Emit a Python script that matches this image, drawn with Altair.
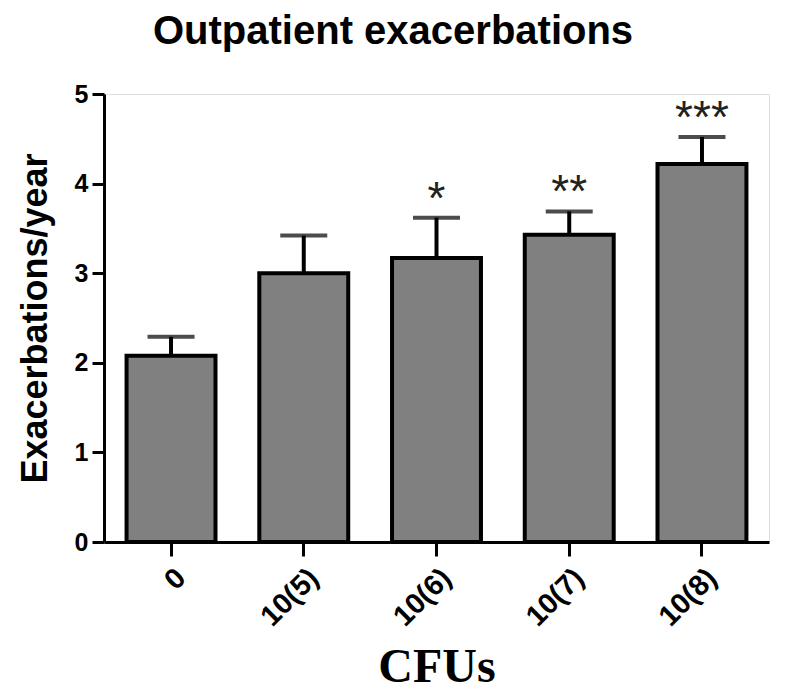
import altair as alt
import pandas as pd

categories = ["0", "10(5)", "10(6)", "10(7)", "10(8)"]
means = [2.08, 3.00, 3.17, 3.43, 4.22]
errors = [0.21, 0.42, 0.45, 0.26, 0.30]
stars = ["", "", "*", "**", "***"]

df = pd.DataFrame({
    "cat": categories,
    "mean": means,
    "top": [m + e for m, e in zip(means, errors)],
    "star": stars,
})

x = alt.X("cat:N", sort=categories, scale=alt.Scale(paddingInner=0.33, paddingOuter=0.17),
          axis=alt.Axis(title="CFUs", labelAngle=315, labelAlign="right", labelBaseline="middle",
                        labelFont="Liberation Sans", labelFontWeight="bold", labelFontSize=29,
                        labelColor="black", labelPadding=17, labelOffset=10,
                        titleFont="Liberation Serif", titleFontWeight="bold", titleFontSize=48,
                        titleColor="black", titlePadding=12,
                        domainColor="black", domainWidth=3, tickColor="black", tickWidth=3,
                        tickSize=14))
y = alt.Y("mean:Q", scale=alt.Scale(domain=[0, 5]),
          axis=alt.Axis(title="Exacerbations/year", values=[0, 1, 2, 3, 4, 5], format="d",
                        grid=False,
                        labelFont="Liberation Sans", labelFontWeight="bold", labelFontSize=25,
                        labelColor="black", labelPadding=4,
                        titleFont="Liberation Sans", titleFontWeight="bold", titleFontSize=36,
                        titleColor="black", titlePadding=20,
                        domainColor="black", domainWidth=3, tickColor="black", tickWidth=3,
                        tickSize=12))

base = alt.Chart(df)

err = base.mark_rule(color="black", strokeWidth=4).encode(x=x, y="mean:Q", y2="top:Q")
cap = base.mark_tick(color="black", thickness=4, size=47, orient="horizontal").encode(x=x, y="top:Q")
bars = base.mark_bar(color="#808080", stroke="black", strokeWidth=4).encode(x=x, y=y)
text = base.mark_text(font="Liberation Sans", fontSize=46, dy=-4,
                      baseline="alphabetic", color="#222").encode(x=x, y="top:Q", text="star:N")

chart = alt.layer(err, cap, bars, text).properties(
    width=665, height=448,
    padding={"left": 9, "top": 4, "right": 5, "bottom": 0},
    title=alt.Title("Outpatient exacerbations", font="Liberation Sans", fontSize=40,
                    fontWeight="bold", color="black", offset=30, frame="bounds", anchor="middle"),
).configure_view(stroke=None).configure(background="white")

chart.save("out.html", embed_options={"renderer": "svg", "actions": False})
